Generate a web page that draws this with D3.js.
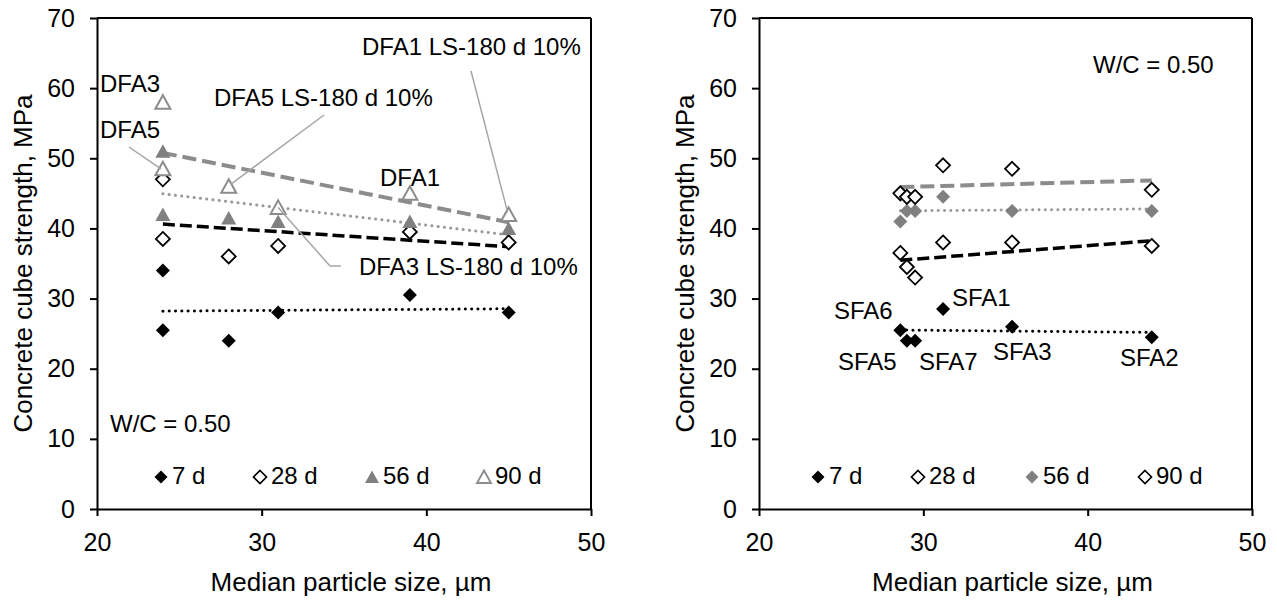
<!DOCTYPE html>
<html>
<head>
<meta charset="utf-8">
<script src="https://cdn.jsdelivr.net/npm/d3@7"></script>
<style>
  html, body { margin: 0; padding: 0; background: #fff; }
  svg { display: block; font-family: "Liberation Sans", Arial, sans-serif; }
</style>
</head>
<body>
<svg id="chart" width="1277" height="600"></svg>
<script>
// ---- Data: DFA mixes (left panel) ----
const dfaNames = ["DFA3", "DFA5", "DFA5 LS", "DFA3 LS", "DFA1", "DFA1 LS"];
const dfaSize = [24, 24, 28, 31, 39, 45];           // median particle size, µm
const dfa7d  = [34, 25.5, 24, 28, 30.5, 28];
const dfa28d = [47, 38.5, 36, 37.5, 39.5, 38];
const dfa56d = [51, 42, 41.5, 41, 41, 40];
const dfa90d = [58, 48.5, 46, 43, 45, 42];

// ---- Data: SFA mixes (right panel) ----
const sfaNames = ["SFA6", "SFA5", "SFA7", "SFA1", "SFA3", "SFA2"];
const sfaSize = [28.6, 29.0, 29.5, 31.2, 35.4, 43.9];
const sfa7d  = [25.5, 24, 24, 28.5, 26, 24.5];
const sfa28d = [36.5, 34.5, 33, 38, 38, 37.5];
const sfa56d = [41, 42.5, 42.5, 44.5, 42.5, 42.5];
const sfa90d = [45, 44.5, 44.5, 49, 48.5, 45.5];

const xTicks = [20, 30, 40, 50];
const yTicks = [0, 10, 20, 30, 40, 50, 60, 70];
const ageLabels = ["7 d", "28 d", "56 d", "90 d"];

const svg = d3.select("#chart");

// marker shapes
const diamondPath = "M0,-7L7,0L0,7L-7,0Z";
const trianglePath = "M0,-7L7.5,6.5L-7.5,6.5Z";

const markerStyles = {
  diamondFill:  { d: diamondPath, fill: "#000", stroke: "none", sw: 0 },
  diamondOpen:  { d: diamondPath, fill: "#fff", stroke: "#000", sw: 1.8 },
  diamondGrey:  { d: diamondPath, fill: "#808080", stroke: "none", sw: 0 },
  triangleGrey: { d: trianglePath, fill: "#808080", stroke: "none", sw: 0 },
  triangleOpen: { d: trianglePath, fill: "#fff", stroke: "#8c8c8c", sw: 2 }
};

const lineStyles = {
  dotBlack:  { stroke: "#000", width: 3, dash: "0.1,6.2", cap: "round" },
  dashBlack: { stroke: "#000", width: 3.5, dash: "12,5", cap: "butt" },
  dotGrey:   { stroke: "#999", width: 3, dash: "0.1,6.2", cap: "round" },
  dashGrey:  { stroke: "#8c8c8c", width: 4, dash: "14,6", cap: "butt" }
};

// least-squares fit over a series
function linearFit(xs, ys) {
  const n = xs.length;
  const mx = d3.mean(xs), my = d3.mean(ys);
  let sxy = 0, sxx = 0;
  for (let i = 0; i < n; i++) {
    sxy += (xs[i] - mx) * (ys[i] - my);
    sxx += (xs[i] - mx) * (xs[i] - mx);
  }
  const b = sxy / sxx;
  return x => my + b * (x - mx);
}

function drawPanel(cfg) {
  const g = svg.append("g");
  const x = d3.scaleLinear().domain([20, 50]).range([cfg.x0, cfg.x1]);
  const y = d3.scaleLinear().domain([0, 70]).range([509, 18]);

  // frame: top and right edges
  g.append("line").attr("x1", cfg.x0).attr("x2", cfg.x1).attr("y1", y(70)).attr("y2", y(70))
    .attr("stroke", "#000").attr("stroke-width", 2);
  g.append("line").attr("x1", cfg.x1).attr("x2", cfg.x1).attr("y1", y(70)).attr("y2", y(0))
    .attr("stroke", "#000").attr("stroke-width", 2);

  const ax = g.append("g").attr("transform", `translate(0,${y(0)})`)
    .call(d3.axisBottom(x).tickValues(xTicks).tickSize(7).tickSizeOuter(0).tickPadding(17));
  const ay = g.append("g").attr("transform", `translate(${cfg.x0},0)`)
    .call(d3.axisLeft(y).tickValues(yTicks).tickSize(7).tickSizeOuter(0).tickPadding(15));
  [ax, ay].forEach(a => {
    a.select(".domain").attr("stroke", "#000").attr("stroke-width", 2);
    a.selectAll(".tick line").attr("stroke", "#000").attr("stroke-width", 2);
    a.selectAll(".tick text").attr("fill", "#000").style("font-size", "25px")
      .style("font-family", "'Liberation Sans', Arial, sans-serif");
  });

  // axis titles
  g.append("text").attr("x", (cfg.x0 + cfg.x1) / 2 + 7).attr("y", 591)
    .attr("text-anchor", "middle").style("font-size", "26px")
    .text("Median particle size, µm");
  g.append("text")
    .attr("transform", `translate(${cfg.x0 - 65.5},${(y(0) + y(70)) / 2}) rotate(-90)`)
    .attr("text-anchor", "middle").style("font-size", "26px")
    .text("Concrete cube strength, MPa");

  // trend lines
  cfg.series.forEach(s => {
    const f = linearFit(cfg.xs, s.values);
    const xmin = d3.min(cfg.xs), xmax = d3.max(cfg.xs);
    const st = lineStyles[s.line];
    g.append("line")
      .attr("x1", x(xmin)).attr("y1", y(f(xmin)))
      .attr("x2", x(xmax)).attr("y2", y(f(xmax)))
      .attr("stroke", st.stroke).attr("stroke-width", st.width)
      .attr("stroke-dasharray", st.dash).attr("stroke-linecap", st.cap);
  });

  // markers
  cfg.series.forEach(s => {
    const m = markerStyles[s.marker];
    g.append("g").selectAll("path").data(s.values).join("path")
      .attr("d", m.d)
      .attr("transform", (v, i) => `translate(${x(cfg.xs[i])},${y(v)})`)
      .attr("fill", m.fill).attr("stroke", m.stroke).attr("stroke-width", m.sw);
  });

  // legend
  cfg.series.forEach((s, i) => {
    const m = markerStyles[s.marker];
    const lx = cfg.legendX[i];
    g.append("path").attr("d", m.d)
      .attr("transform", `translate(${lx},477) scale(0.93)`)
      .attr("fill", m.fill).attr("stroke", m.stroke).attr("stroke-width", m.sw);
    g.append("text").attr("x", lx + 11).attr("y", 484).style("font-size", "24px")
      .text(ageLabels[i]);
  });

  return { g, x, y };
}

// ---- Left panel ----
const left = drawPanel({
  x0: 97, x1: 591,
  xs: dfaSize,
  series: [
    { values: dfa7d,  marker: "diamondFill",  line: "dotBlack" },
    { values: dfa28d, marker: "diamondOpen",  line: "dashBlack" },
    { values: dfa56d, marker: "triangleGrey", line: "dotGrey" },
    { values: dfa90d, marker: "triangleOpen", line: "dashGrey" }
  ],
  legendX: [161, 260, 372, 484]
});

// ---- Right panel ----
const right = drawPanel({
  x0: 759, x1: 1252,
  xs: sfaSize,
  series: [
    { values: sfa7d,  marker: "diamondFill", line: "dotBlack" },
    { values: sfa28d, marker: "diamondOpen", line: "dashBlack" },
    { values: sfa56d, marker: "diamondGrey", line: "dotGrey" },
    { values: sfa90d, marker: "diamondOpen", line: "dashGrey" }
  ],
  legendX: [818, 918, 1032, 1145]
});

// ---- Annotations, left panel ----
const lg = left.g, lx = left.x, ly = left.y;
const leader = "#a6a6a6";
function label(g, x, y, t) {
  g.append("text").attr("x", x).attr("y", y).style("font-size", "24px").text(t);
}
label(lg, 110, 432, "W/C = 0.50");
label(lg, 100, 92, "DFA3");
label(lg, 100, 138, "DFA5");
label(lg, 380, 186, "DFA1");
label(lg, 214, 106, "DFA5 LS-180 d 10%");
label(lg, 362, 55, "DFA1 LS-180 d 10%");
label(lg, 359, 275, "DFA3 LS-180 d 10%");

// leader lines to the 90 d points they describe
lg.append("line").attr("x1", 129).attr("y1", 147)
  .attr("x2", lx(dfaSize[1]) - 2).attr("y2", ly(dfa90d[1]))
  .attr("stroke", leader).attr("stroke-width", 1.5);
lg.append("line").attr("x1", 324).attr("y1", 115)
  .attr("x2", lx(dfaSize[2]) + 2).attr("y2", ly(dfa90d[2]) - 2)
  .attr("stroke", leader).attr("stroke-width", 1.5);
lg.append("line").attr("x1", 471).attr("y1", 71)
  .attr("x2", lx(dfaSize[5]) - 1).attr("y2", ly(dfa90d[5]) - 2)
  .attr("stroke", leader).attr("stroke-width", 1.5);
lg.append("polyline")
  .attr("points", `${lx(dfaSize[3])},${ly(dfa90d[3])} 330,266 341,266`)
  .attr("fill", "none").attr("stroke", leader).attr("stroke-width", 1.5);

// ---- Annotations, right panel ----
const rg = right.g;
label(rg, 1093, 73, "W/C = 0.50");
const sfaLabelPos = [[834, 319], [838, 370], [919, 370], [952, 306], [993, 360], [1120, 366]];
sfaNames.forEach((n, i) => label(rg, sfaLabelPos[i][0], sfaLabelPos[i][1], n));
</script>
</body>
</html>
